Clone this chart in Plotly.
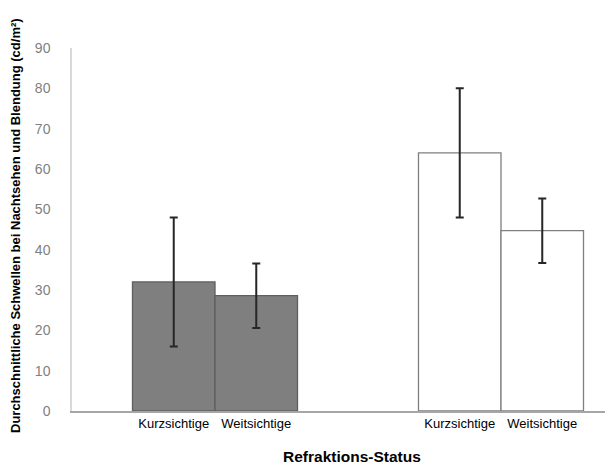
import plotly.graph_objects as go

# Data
groups = ["Gruppe 1", "Gruppe 2"]
subgroups = ["Kurzsichtige", "Weitsichtige"]
means_g1 = [32, 28.6]
errs_g1 = [16, 8]
means_g2 = [64, 44.7]
errs_g2 = [16, 8]
y_ticks = [0, 10, 20, 30, 40, 50, 60, 70, 80, 90]

bar_w = 0.2885
offsets = [-bar_w / 2, bar_w / 2]

# page body has an 8px margin; the figure is laid out to fill (and slightly overflow) the window
OFF = 8
W, H = 625, 466 - OFF
L, T, B = 72 - OFF, 48 - OFF, 55

fig = go.Figure()
series = [(means_g1, errs_g1, "#7f7f7f", "#5f5f5f"), (means_g2, errs_g2, "#ffffff", "#7f7f7f")]
tickvals, ticktext = [], []
for gi, (vals, errs, fill, line) in enumerate(series):
    xs = [gi + 0.5 + o for o in offsets]
    tickvals += xs
    ticktext += subgroups
    fig.add_trace(go.Bar(
        x=xs, y=vals, width=bar_w,
        marker=dict(color=fill, line=dict(color=line, width=1.3)),
        error_y=dict(type="data", array=errs, visible=True, color="#262626", thickness=2, width=4),
        showlegend=False,
    ))

pw, ph = W - L, H - T - B
def px2paper(px, py):
    # px, py are window pixel coordinates
    return (px - OFF - L) / pw, (H - B - (py - OFF)) / ph

ax, ay = px2paper(352, 456)
bx, by = px2paper(16, 226)

fig.update_layout(
    width=W, height=H,
    margin=dict(l=L, r=0, t=T, b=B),
    paper_bgcolor="white", plot_bgcolor="white",
    barmode="overlay",
    font=dict(family="Liberation Sans, Arial, sans-serif", color="#000000"),
    xaxis=dict(range=[0, pw / 286], tickvals=tickvals, ticktext=ticktext, showgrid=False,
               zeroline=False, showline=True, linecolor="#a6a6a6", linewidth=1.5,
               ticks="", tickfont=dict(size=13, color="#000000"), ticklabelstandoff=0),
    yaxis=dict(range=[0, 90], tickvals=y_ticks, showgrid=False, zeroline=False,
               showline=True, linecolor="#d9d9d9", linewidth=1.5, ticks="",
               tickfont=dict(size=14, color="#7f7f7f"), ticklabelstandoff=17),
    annotations=[
        dict(text="<b>Refraktions-Status</b>", x=ax, y=ay, xref="paper", yref="paper",
             xanchor="center", yanchor="middle", showarrow=False, font=dict(size=15.5)),
        dict(text="<b>Durchschnittliche Schwellen bei Nachtsehen und Blendung (cd/m²)</b>",
             x=bx, y=by, xref="paper", yref="paper", xanchor="center", yanchor="middle",
             showarrow=False, textangle=-90, font=dict(size=13)),
    ],
)

fig.write_html("out.html")
